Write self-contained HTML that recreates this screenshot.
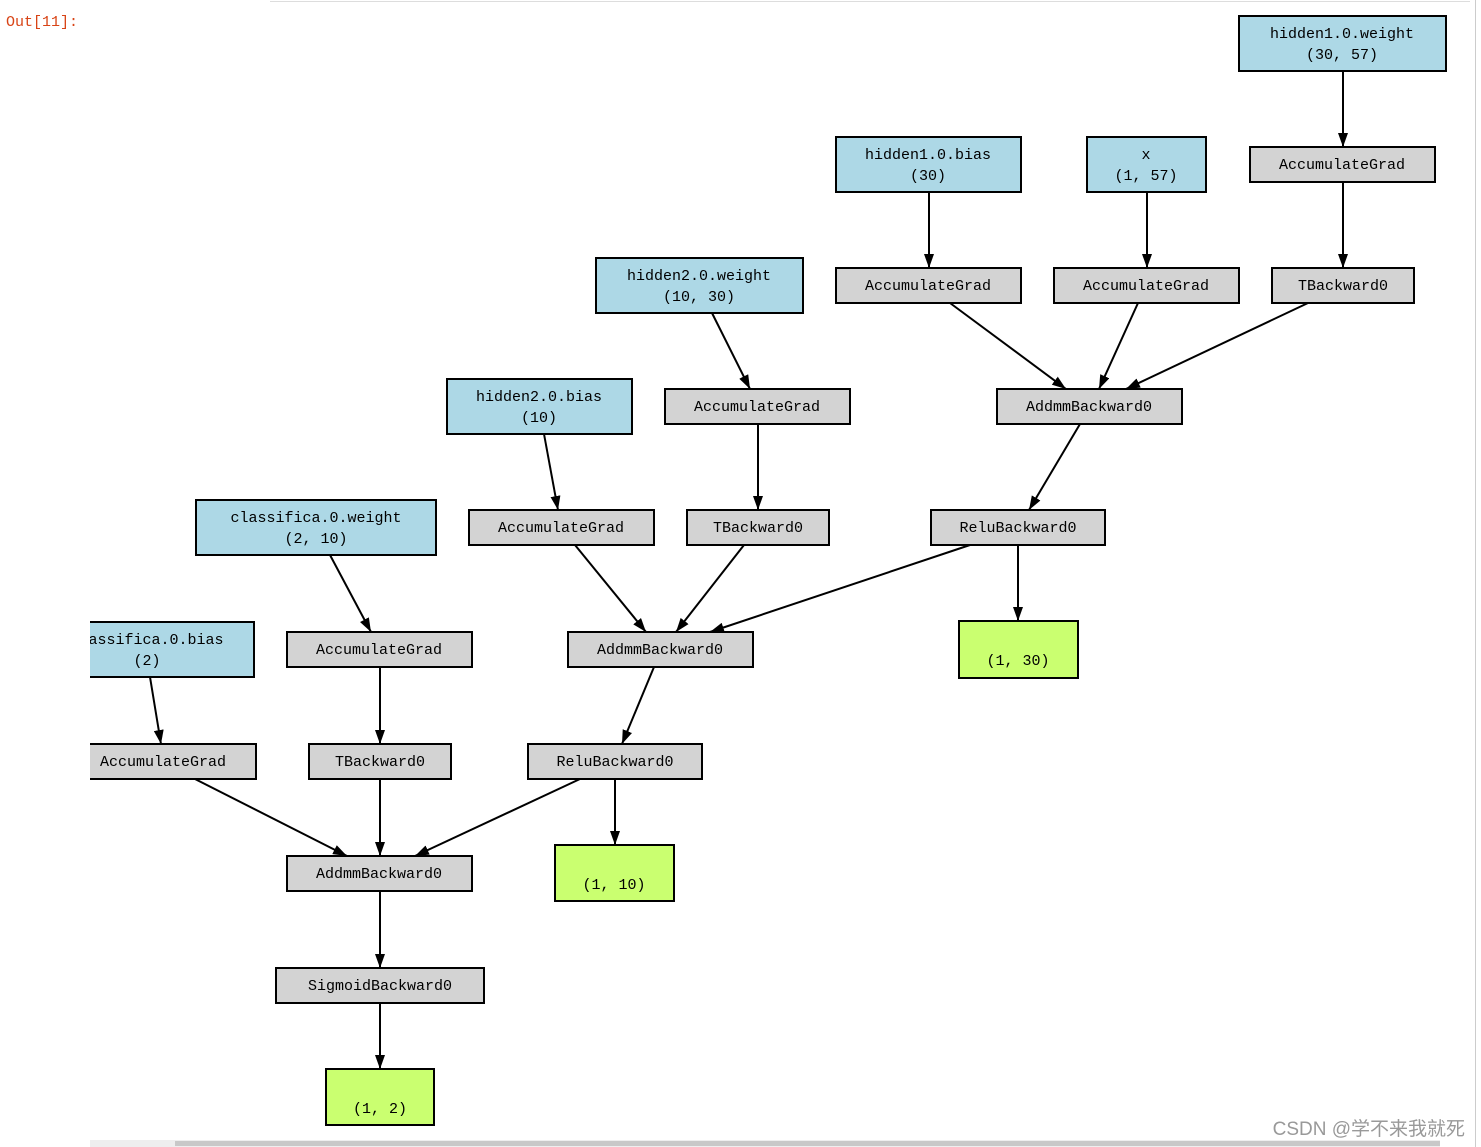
<!DOCTYPE html>
<html><head><meta charset="utf-8"><style>
body{margin:0;background:#fff;width:1481px;height:1147px;overflow:hidden;position:relative}
svg{position:absolute;left:0;top:0}
</style></head><body>
<svg width="1481" height="1147" viewBox="0 0 1481 1147" font-family="Liberation Mono, monospace" font-size="15">
<defs>
<marker id="a" viewBox="0 0 14 10" refX="14" refY="5" markerWidth="14" markerHeight="10" markerUnits="userSpaceOnUse" orient="auto"><path d="M0,0L14,5L0,10z" fill="#000"/></marker>
<clipPath id="c"><rect x="90" y="0" width="1400" height="1147"/></clipPath>
</defs>
<line x1="270" y1="1.5" x2="1470" y2="1.5" stroke="#ddd"/>
<line x1="1475.5" y1="0" x2="1475.5" y2="1147" stroke="#ccc"/>
<rect x="90" y="1140" width="1350" height="7" fill="#eee"/>
<rect x="175" y="1141" width="1265" height="5" fill="#c8c8c8"/>
<text x="6" y="26" fill="#d84315" font-size="15">Out[11]:</text>
<text x="1465" y="1135" fill="#999" font-size="19" text-anchor="end" font-family="Liberation Sans, Noto Sans CJK SC, sans-serif">CSDN @学不来我就死</text>
<g clip-path="url(#c)">
<g stroke="#000" stroke-width="2" marker-end="url(#a)">
<line x1="1343" y1="71" x2="1343" y2="147"/>
<line x1="929" y1="192" x2="929" y2="268"/>
<line x1="1147" y1="192" x2="1147" y2="268"/>
<line x1="1343" y1="182" x2="1343" y2="268"/>
<line x1="950" y1="303" x2="1066" y2="389"/>
<line x1="1138" y1="303" x2="1099" y2="389"/>
<line x1="1308" y1="303" x2="1126" y2="389"/>
<line x1="712" y1="313" x2="750" y2="389"/>
<line x1="1080" y1="424" x2="1029" y2="510"/>
<line x1="544" y1="434" x2="558" y2="510"/>
<line x1="758" y1="424" x2="758" y2="510"/>
<line x1="575" y1="545" x2="646" y2="632"/>
<line x1="744" y1="545" x2="676" y2="632"/>
<line x1="970" y1="545" x2="710" y2="632"/>
<line x1="1018" y1="545" x2="1018" y2="621"/>
<line x1="330" y1="555" x2="371" y2="632"/>
<line x1="150" y1="677" x2="161" y2="744"/>
<line x1="380" y1="667" x2="380" y2="744"/>
<line x1="654" y1="667" x2="622" y2="744"/>
<line x1="195" y1="779" x2="347" y2="856"/>
<line x1="380" y1="779" x2="380" y2="856"/>
<line x1="580" y1="779" x2="415" y2="856"/>
<line x1="615" y1="779" x2="615" y2="845"/>
<line x1="380" y1="891" x2="380" y2="968"/>
<line x1="380" y1="1003" x2="380" y2="1069"/>
</g>
<g stroke="#000" stroke-width="2">
<rect x="1239" y="16" width="207" height="55" fill="#add8e6"/>
<rect x="836" y="137" width="185" height="55" fill="#add8e6"/>
<rect x="1087" y="137" width="119" height="55" fill="#add8e6"/>
<rect x="596" y="258" width="207" height="55" fill="#add8e6"/>
<rect x="447" y="379" width="185" height="55" fill="#add8e6"/>
<rect x="196" y="500" width="240" height="55" fill="#add8e6"/>
<rect x="40" y="622" width="214" height="55" fill="#add8e6"/>
<rect x="1250" y="147" width="185" height="35" fill="#d3d3d3"/>
<rect x="836" y="268" width="185" height="35" fill="#d3d3d3"/>
<rect x="1054" y="268" width="185" height="35" fill="#d3d3d3"/>
<rect x="1272" y="268" width="142" height="35" fill="#d3d3d3"/>
<rect x="665" y="389" width="185" height="35" fill="#d3d3d3"/>
<rect x="997" y="389" width="185" height="35" fill="#d3d3d3"/>
<rect x="469" y="510" width="185" height="35" fill="#d3d3d3"/>
<rect x="687" y="510" width="142" height="35" fill="#d3d3d3"/>
<rect x="931" y="510" width="174" height="35" fill="#d3d3d3"/>
<rect x="287" y="632" width="185" height="35" fill="#d3d3d3"/>
<rect x="568" y="632" width="185" height="35" fill="#d3d3d3"/>
<rect x="71" y="744" width="185" height="35" fill="#d3d3d3"/>
<rect x="309" y="744" width="142" height="35" fill="#d3d3d3"/>
<rect x="528" y="744" width="174" height="35" fill="#d3d3d3"/>
<rect x="287" y="856" width="185" height="35" fill="#d3d3d3"/>
<rect x="276" y="968" width="208" height="35" fill="#d3d3d3"/>
<rect x="959" y="621" width="119" height="57" fill="#caff70"/>
<rect x="555" y="845" width="119" height="56" fill="#caff70"/>
<rect x="326" y="1069" width="108" height="56" fill="#caff70"/>
</g>
<g text-anchor="middle" fill="#000">
<text x="1342" y="38">hidden1.0.weight</text><text x="1342" y="59">(30, 57)</text>
<text x="928" y="159">hidden1.0.bias</text><text x="928" y="180">(30)</text>
<text x="1146" y="159">x</text><text x="1146" y="180">(1, 57)</text>
<text x="699" y="280">hidden2.0.weight</text><text x="699" y="301">(10, 30)</text>
<text x="539" y="401">hidden2.0.bias</text><text x="539" y="422">(10)</text>
<text x="316" y="522">classifica.0.weight</text><text x="316" y="543">(2, 10)</text>
<text x="147" y="644">classifica.0.bias</text><text x="147" y="665">(2)</text>
<text x="1342" y="169">AccumulateGrad</text>
<text x="928" y="290">AccumulateGrad</text>
<text x="1146" y="290">AccumulateGrad</text>
<text x="1343" y="290">TBackward0</text>
<text x="757" y="411">AccumulateGrad</text>
<text x="1089" y="411">AddmmBackward0</text>
<text x="561" y="532">AccumulateGrad</text>
<text x="758" y="532">TBackward0</text>
<text x="1018" y="532">ReluBackward0</text>
<text x="379" y="654">AccumulateGrad</text>
<text x="660" y="654">AddmmBackward0</text>
<text x="163" y="766">AccumulateGrad</text>
<text x="380" y="766">TBackward0</text>
<text x="615" y="766">ReluBackward0</text>
<text x="379" y="878">AddmmBackward0</text>
<text x="380" y="990">SigmoidBackward0</text>
<text x="1018" y="665">(1, 30)</text>
<text x="614" y="889">(1, 10)</text>
<text x="380" y="1113">(1, 2)</text>
</g>
</g>
</svg>
</body></html>
